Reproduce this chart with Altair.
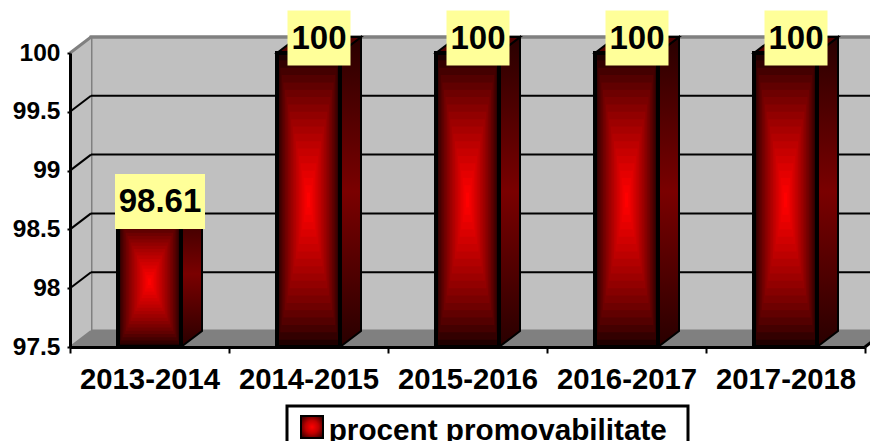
import altair as alt
import pandas as pd

PERIODS = ["2013-2014", "2014-2015", "2015-2016", "2016-2017", "2017-2018"]
VALUES = [98.61, 100, 100, 100, 100]
LABELS = ["98.61", "100", "100", "100", "100"]
SERIES = "procent promovabilitate"
Y_TICKS = [97.5, 98, 98.5, 99, 99.5, 100]
GRID_VALUES = [98, 98.5, 99, 99.5]

FONT = "Liberation Sans"
W, H = 795, 294
Y0, Y1 = 97.5, 100
PX_X = W / len(PERIODS)
PX_Y = H / (Y1 - Y0)
DX = 21 / PX_X
DY = 16 / PX_Y
HALF = 31.5 / PX_X
LEVELS = 20

xq = alt.Scale(domain=[0, len(PERIODS)], nice=False, zero=False)
yq = alt.Scale(domain=[Y0, Y1], nice=False, zero=False)
y_axis = alt.Axis(
    orient="left", title=None, values=Y_TICKS, grid=False, zindex=1,
    domainColor="black", domainWidth=3, tickColor="black", tickWidth=2, tickSize=3,
    labelFont=FONT, labelFontWeight="bold", labelFontSize=24.5, labelColor="black",
    labelPadding=7, labelExpr="'' + datum.value",
)


def X(f="x"):
    return alt.X(f"{f}:Q", scale=xq, axis=None)


def Y(f="y"):
    return alt.Y(f"{f}:Q", scale=yq, axis=y_axis)


wall = pd.DataFrame([{"x": DX, "x2": len(PERIODS) + DX, "y": Y0 + DY, "y2": Y1 + DY}])
left_wall = pd.DataFrame([
    {"x": 0, "y": Y0, "y2": Y1},
    {"x": DX, "y": Y0 + DY, "y2": Y1 + DY},
])
floor = pd.DataFrame([
    {"y": Y0, "x": 0, "x2": len(PERIODS)},
    {"y": Y0 + DY, "x": DX, "x2": len(PERIODS) + DX},
])
grid_back = pd.DataFrame(
    [{"v": v, "x": DX, "y": v + DY} for v in GRID_VALUES]
    + [{"v": v, "x": len(PERIODS) + DX, "y": v + DY} for v in GRID_VALUES]
)
grid_left = pd.DataFrame(
    [{"v": v, "x": 0, "y": v} for v in GRID_VALUES]
    + [{"v": v, "x": DX, "y": v + DY} for v in GRID_VALUES]
)
top_edge = pd.DataFrame([
    {"x": 0, "y": Y1},
    {"x": DX, "y": Y1 + DY},
    {"x": len(PERIODS) + DX, "y": Y1 + DY},
])
floor_left = pd.DataFrame([{"x": 0, "y": Y0}, {"x": DX, "y": Y0 + DY}])
floor_right = pd.DataFrame([
    {"x": len(PERIODS), "y": Y0},
    {"x": len(PERIODS) + DX, "y": Y0 + DY},
])

rows_side, rows_top, rows_front, rows_nested, rows_box = [], [], [], [], []
for i, (p, v, lab) in enumerate(zip(PERIODS, VALUES, LABELS)):
    c = i + 0.5
    l, r = c - HALF, c + HALF
    rows_side += [
        {"bar": p, "x": r, "y": Y0, "y2": v},
        {"bar": p, "x": r + DX, "y": Y0 + DY, "y2": v + DY},
    ]
    rows_top += [
        {"bar": p, "y": v, "x": l, "x2": r},
        {"bar": p, "y": v + DY, "x": l + DX, "x2": r + DX},
    ]
    rows_front.append({"period": p, "series": SERIES, "x": l, "x2": r, "y": Y0, "y2": v})
    mid = (Y0 + v) / 2
    for k in range(LEVELS):
        s = 1 - k / LEVELS
        red = round(255 * ((k + 1) / LEVELS) ** 0.7)
        rows_nested.append({
            "x": c - HALF * s, "x2": c + HALF * s,
            "y": mid - (v - Y0) / 2 * s, "y2": mid + (v - Y0) / 2 * s,
            "col": f"#{red:02x}0000",
        })
    bw = (63 + (len(lab) - 3) * 13.5) / PX_X
    by = v + 15 / PX_Y
    rows_box.append({
        "label": lab, "xc": c + DX / 2, "yc": by,
        "x": c + DX / 2 - bw / 2, "x2": c + DX / 2 + bw / 2,
        "y": by - 27.5 / PX_Y, "y2": by + 27.5 / PX_Y,
    })

side_fill = alt.Gradient(
    gradient="linear", x1=0, y1=0, x2=0, y2=1,
    stops=[
        alt.GradientStop(color="#280000", offset=0),
        alt.GradientStop(color="#7a0000", offset=0.5),
        alt.GradientStop(color="#280000", offset=1),
    ],
)
swatch_fill = alt.Gradient(
    gradient="radial", x1=0.5, y1=0.5, x2=0.5, y2=0.5, r1=0, r2=0.65,
    stops=[
        alt.GradientStop(color="#ff0000", offset=0),
        alt.GradientStop(color="#c00000", offset=0.45),
        alt.GradientStop(color="#300000", offset=1),
    ],
)

GRAY = "#808080"
one_row = pd.DataFrame({"series": [SERIES]})
layers = [
    alt.Chart(wall).mark_rect(fill="#C0C0C0", stroke=GRAY, strokeWidth=3).encode(
        x=X(), x2="x2:Q", y=Y(), y2="y2:Q"),
    alt.Chart(left_wall).mark_area(fill="#C0C0C0").encode(x=X(), y=Y(), y2="y2:Q"),
    alt.Chart(floor).mark_area(orient="horizontal", fill=GRAY).encode(
        y=Y(), x=X(), x2="x2:Q"),
    alt.Chart(grid_back).mark_line(color="black", strokeWidth=2).encode(
        x=X(), y=Y(), detail="v:N"),
    alt.Chart(grid_left).mark_line(color="black", strokeWidth=2).encode(
        x=X(), y=Y(), detail="v:N"),
    alt.Chart(top_edge).mark_line(color=GRAY, strokeWidth=3).encode(
        x=X(), y=Y(), order=alt.Order("x:Q")),
    alt.Chart(floor_left).mark_line(color=GRAY, strokeWidth=2).encode(x=X(), y=Y()),
    alt.Chart(floor_right).mark_line(color="black", strokeWidth=3).encode(x=X(), y=Y()),
    alt.Chart(pd.DataFrame(rows_side)).mark_area(
        fill=side_fill, stroke="black", strokeWidth=2
    ).encode(x=X(), y=Y(), y2="y2:Q", detail="bar:N"),
    alt.Chart(pd.DataFrame(rows_top)).mark_area(
        orient="horizontal", fill="#500000", stroke="black", strokeWidth=2
    ).encode(y=Y(), x=X(), x2="x2:Q", detail="bar:N"),
    alt.Chart(pd.DataFrame(rows_front)).mark_rect().encode(
        x=X(), x2="x2:Q", y=Y(), y2="y2:Q",
        color=alt.Color(
            "series:N",
            scale=alt.Scale(domain=[SERIES], range=["#a00000"]),
            legend=alt.Legend(
                orient="none", legendX=226, legendY=363, title=None, zindex=0,
                padding=0, symbolType="square", symbolSize=484, symbolOpacity=0,
                labelFont=FONT, labelFontWeight="bold", labelFontSize=29.7,
                labelColor="black", labelOffset=3, labelLimit=500,
            ),
        ),
    ),
    alt.Chart(pd.DataFrame(rows_nested)).mark_rect().encode(
        x=X(), x2="x2:Q", y=Y(), y2="y2:Q",
        fill=alt.Fill("col:N", scale=None),
    ),
    alt.Chart(pd.DataFrame(rows_front)).mark_rect(
        fillOpacity=0, stroke="black", strokeWidth=4
    ).encode(x=X(), x2="x2:Q", y=Y(), y2="y2:Q"),
    alt.Chart(pd.DataFrame(rows_box)).mark_rect(fill="#FFFF99").encode(
        x=X(), x2="x2:Q", y=Y(), y2="y2:Q"),
    alt.Chart(pd.DataFrame(rows_box)).mark_text(
        font=FONT, fontWeight="bold", fontSize=33, color="black", baseline="middle", dy=1
    ).encode(x=X("xc"), y=Y("yc"), text="label:N"),
    # legend frame and swatch, laid over the real legend
    alt.Chart(one_row).mark_rect(fillOpacity=0, stroke="black", strokeWidth=3).encode(
        x=alt.value(217), x2=alt.value(618), y=alt.value(353), y2=alt.value(400)),
    alt.Chart(one_row).mark_rect(fill=swatch_fill, stroke="black", strokeWidth=2).encode(
        x=alt.value(231), x2=alt.value(253), y=alt.value(363), y2=alt.value(385)),
]

axis_layer = alt.Chart(pd.DataFrame({"period": PERIODS, "value": VALUES})).mark_bar(opacity=0).encode(
    x=alt.X(
        "period:N",
        sort=PERIODS,
        scale=alt.Scale(type="band", domain=PERIODS, paddingInner=0, paddingOuter=0),
        axis=alt.Axis(
            orient="bottom", title=None, tickBand="extent", labelAngle=0, zindex=1,
            domainColor="black", domainWidth=3, tickColor="black", tickWidth=2, tickSize=6,
            labelFont=FONT, labelFontWeight="bold", labelFontSize=29.3, labelColor="black",
            labelPadding=12, labelBaseline="top",
        ),
    ),
    y=Y("value"),
)

chart = alt.layer(alt.layer(*layers), axis_layer).resolve_scale(x="independent").properties(
    width=W,
    height=H,
    padding={"left": 62, "top": 45, "right": 5, "bottom": 94},
    autosize=alt.AutoSizeParams(type="none"),
    background="white",
).configure_view(stroke=None)

chart.save("out.html", embed_options={"renderer": "svg", "actions": False})
